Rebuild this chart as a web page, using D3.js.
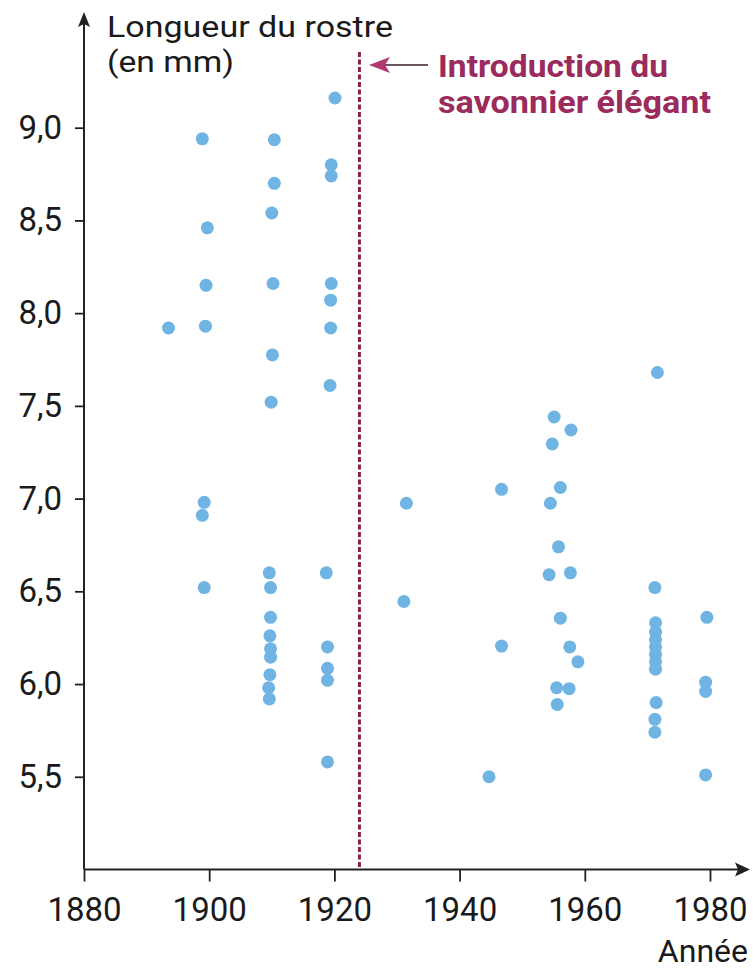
<!DOCTYPE html>
<html><head><meta charset="utf-8">
<script src="https://cdn.jsdelivr.net/npm/d3@7"></script>
<style>
html,body{margin:0;padding:0;background:#fff;}
svg{display:block;font-family:Roboto,"DejaVu Sans",sans-serif;}
</style></head>
<body>
<svg id="c" width="756" height="970"></svg>
<script>
// ---- data ----
const years = [
  1893.5, 1898.9, 1899.7, 1899.5, 1899.4, 1899.2, 1898.9, 1899.2,
  1910.4, 1910.4, 1910.0, 1910.2, 1910.1, 1909.9,
  1909.6, 1909.8, 1909.8, 1909.7, 1909.8, 1909.8, 1909.7, 1909.5, 1909.6,
  1920.1, 1919.5, 1919.5, 1919.5, 1919.4, 1919.4, 1919.3,
  1918.7, 1918.9, 1918.9, 1918.9, 1918.9,
  1931.5, 1931.1,
  1944.7, 1946.7, 1946.7,
  1955.1, 1957.8, 1954.8, 1956.1, 1954.5, 1955.8, 1954.3, 1957.7, 1956.1,
  1957.6, 1958.9, 1955.5, 1957.5, 1955.6,
  1971.6, 1971.2, 1971.3, 1971.3, 1971.3, 1971.3, 1971.3, 1971.3, 1971.3,
  1971.4, 1971.2, 1971.2,
  1979.5, 1979.3, 1979.3, 1979.3
];
const lengths = [
  7.92, 8.94, 8.46, 8.15, 7.93, 6.98, 6.91, 6.52,
  8.935, 8.70, 8.54, 8.16, 7.775, 7.52,
  6.60, 6.52, 6.36, 6.26, 6.19, 6.145, 6.05, 5.98, 5.92,
  9.16, 8.80, 8.74, 8.16, 8.07, 7.92, 7.61,
  6.60, 6.20, 6.085, 6.02, 5.58,
  6.975, 6.445,
  5.50, 7.05, 6.205,
  7.44, 7.37, 7.295, 7.06, 6.975, 6.74, 6.59, 6.60, 6.355,
  6.20, 6.12, 5.98, 5.975, 5.89,
  7.68, 6.52, 6.33, 6.28, 6.24, 6.20, 6.16, 6.12, 6.08,
  5.90, 5.81, 5.74,
  6.36, 6.01, 5.96, 5.51
];
const xTicks = [1880, 1900, 1920, 1940, 1960, 1980];
const yTicks = [5.5, 6.0, 6.5, 7.0, 7.5, 8.0, 8.5, 9.0];
const introYear = 1924;
const yTitle = ["Longueur du rostre", "(en mm)"];
const xTitle = "Année";
const annotation = ["Introduction du", "savonnier élégant"];

// ---- chart ----
const svg = d3.select("#c");
const x = d3.scaleLinear().domain([1880, 1980]).range([84, 710]);
const y = d3.scaleLinear().domain([5.0, 9.0]).range([869.5, 127.7]);
const axisColor = "#222";
const fmt = d => d.toFixed(1).replace(".", ",");

// x axis
const gx = svg.append("g").attr("transform", `translate(0,${y(5.0)})`)
  .call(d3.axisBottom(x).tickValues(xTicks).tickSize(12).tickPadding(16).tickFormat(d3.format("d")));
gx.select(".domain").remove();
gx.selectAll(".tick line").attr("stroke", axisColor).attr("stroke-width", 1.8);
gx.selectAll(".tick text").attr("fill", "#1a1a1a").style("font-size", "33px").style("font-family", "Roboto");

// y axis
const gy = svg.append("g").attr("transform", `translate(${x(1880)},0)`)
  .call(d3.axisLeft(y).tickValues(yTicks).tickSize(9).tickPadding(13).tickFormat(fmt));
gy.select(".domain").remove();
gy.selectAll(".tick line").attr("stroke", axisColor).attr("stroke-width", 1.8);
gy.selectAll(".tick text").attr("fill", "#1a1a1a").style("font-size", "33px").style("font-family", "Roboto");

// axis lines with arrows
const x0 = x(1880), y0 = y(5.0);
svg.append("line").attr("x1", x0).attr("y1", y0).attr("x2", 742).attr("y2", y0)
  .attr("stroke", axisColor).attr("stroke-width", 2);
svg.append("path").attr("d", `M750,${y0} L735,${y0-7} L738,${y0} L735,${y0+7} Z`).attr("fill", axisColor);
svg.append("line").attr("x1", x0).attr("y1", y0).attr("x2", x0).attr("y2", 20)
  .attr("stroke", axisColor).attr("stroke-width", 2);
svg.append("path").attr("d", `M${x0},12 L${x0-6},27 L${x0},24 L${x0+6},27 Z`).attr("fill", axisColor);

// axis titles
svg.append("text").attr("x", 107).attr("y", 37).attr("fill", "#1a1a1a")
  .style("font-size", "30px").attr("textLength", 286).attr("lengthAdjust", "spacingAndGlyphs").text(yTitle[0]);
svg.append("text").attr("x", 107).attr("y", 72).attr("fill", "#1a1a1a")
  .style("font-size", "30px").attr("textLength", 127).attr("lengthAdjust", "spacingAndGlyphs").text(yTitle[1]);
svg.append("text").attr("x", 748).attr("y", 962).attr("text-anchor", "end").attr("fill", "#1a1a1a")
  .style("font-size", "32px").text(xTitle);

// dashed introduction line
svg.append("line").attr("x1", x(introYear)).attr("x2", x(introYear))
  .attr("y1", 52).attr("y2", y0)
  .attr("stroke", "#8a2050").attr("stroke-width", 3).attr("stroke-dasharray", "5,2.5");

// annotation arrow
svg.append("line").attr("x1", 428).attr("y1", 65).attr("x2", 380).attr("y2", 65)
  .attr("stroke", "#3a1f2c").attr("stroke-width", 1.6);
svg.append("path").attr("d", "M369,65 L390,57 L385,65 L390,73 Z").attr("fill", "#b03a6e");

// annotation text
const annLen = [230, 273];
annotation.forEach((t, i) => {
  svg.append("text").attr("x", 438).attr("y", 77 + i * 36)
    .attr("fill", "#9a2b5c").style("font-size", "32px").style("font-weight", "700")
    .attr("textLength", annLen[i]).attr("lengthAdjust", "spacingAndGlyphs").text(t);
});

// points
svg.append("g").selectAll("circle").data(years.map((yr, i) => [yr, lengths[i]]))
  .join("circle")
  .attr("cx", d => x(d[0])).attr("cy", d => y(d[1])).attr("r", 6.5)
  .attr("fill", "#6fb4e3");
</script>
</body></html>
